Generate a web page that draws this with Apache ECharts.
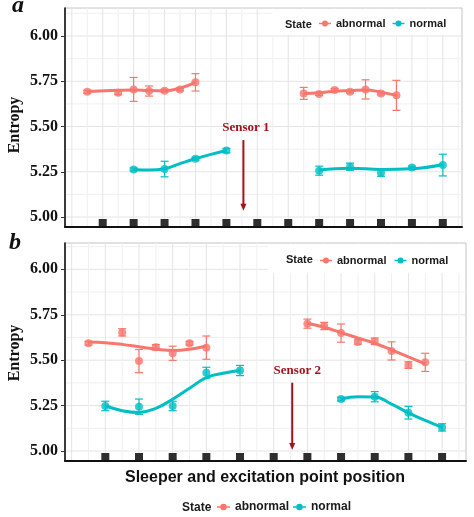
<!DOCTYPE html>
<html><head><meta charset="utf-8">
<script src="https://cdn.jsdelivr.net/npm/echarts@6/dist/echarts.min.js"></script>
<style>html,body{margin:0;padding:0;background:#fff}#c{width:474px;height:517px}</style>
</head><body><div id="c"></div>
<script>
// ---- tick / grid values ----
const yTicks = [5.00, 5.25, 5.50, 5.75, 6.00];
const yGrid = [5.000, 5.125, 5.250, 5.375, 5.500, 5.625, 5.750, 5.875, 6.000, 6.125];
const xGridA = [0, 0.5, 1, 1.5, 2, 2.5, 3, 3.5, 4, 4.5, 5, 5.5, 6, 6.5, 7, 7.5, 8, 8.5, 9, 9.5, 10, 10.5, 11, 11.5, 12, 12.5];
const xGridB = [0, 0.5, 1, 1.5, 2, 2.5, 3, 3.5, 4, 4.5, 5, 5.5, 6, 6.5, 7, 7.5, 8, 8.5, 9, 9.5, 10, 10.5, 11, 11.5];
const sleepersA = [1, 2, 3, 4, 5, 6, 7, 8, 9, 10, 11, 12];
const sleepersB = [1, 2, 3, 4, 5, 6, 7, 8, 9, 10, 11];
const legendNames = ['abnormal', 'normal'];

// ---- panel a: points (mean ± error) ----
const aAbnX   = [0.5, 1.5, 2, 2.5, 3, 3.5, 4, 7.5, 8, 8.5, 9, 9.5, 10, 10.5];
const aAbnY   = [5.692, 5.686, 5.705, 5.696, 5.698, 5.705, 5.744, 5.683, 5.680, 5.702, 5.692, 5.705, 5.683, 5.672];
const aAbnErr = [0.008, 0.010, 0.066, 0.028, 0.008, 0.008, 0.048, 0.033, 0.008, 0.008, 0.008, 0.053, 0.008, 0.083];
const aNorX   = [2, 3, 4, 5, 8, 9, 10, 11, 12];
const aNorY   = [5.263, 5.265, 5.322, 5.367, 5.256, 5.278, 5.245, 5.273, 5.287];
const aNorErr = [0.008, 0.043, 0.008, 0.012, 0.025, 0.020, 0.020, 0.008, 0.060];
// panel a: smooth fit curves
const aAbnFitLX = [0.5, 1.5, 2, 2.5, 3, 3.5, 4];
const aAbnFitLY = [5.693, 5.700, 5.702, 5.699, 5.698, 5.712, 5.744];
const aAbnFitRX = [7.5, 8, 8.5, 9, 9.5, 10, 10.5];
const aAbnFitRY = [5.683, 5.687, 5.695, 5.698, 5.702, 5.690, 5.672];
const aNorFitLX = [2, 2.5, 3, 3.5, 4, 4.5, 5];
const aNorFitLY = [5.263, 5.260, 5.267, 5.295, 5.322, 5.346, 5.367];
const aNorFitRX = [8, 9, 10, 11, 12];
const aNorFitRY = [5.260, 5.270, 5.262, 5.266, 5.290];

// ---- panel b: points ----
const bAbnX   = [0.5, 1.5, 2, 2.5, 3, 3.5, 4, 7, 7.5, 8, 8.5, 9, 9.5, 10, 10.5];
const bAbnY   = [5.593, 5.653, 5.495, 5.571, 5.538, 5.593, 5.569, 5.701, 5.688, 5.649, 5.600, 5.604, 5.551, 5.473, 5.488];
const bAbnErr = [0.010, 0.020, 0.064, 0.015, 0.039, 0.010, 0.064, 0.025, 0.020, 0.050, 0.012, 0.018, 0.050, 0.018, 0.050];
const bNorX   = [1, 2, 3, 4, 5, 8, 9, 10, 11];
const bNorY   = [5.248, 5.244, 5.248, 5.431, 5.443, 5.286, 5.299, 5.211, 5.130];
const bNorErr = [0.026, 0.042, 0.026, 0.030, 0.028, 0.010, 0.028, 0.035, 0.020];
// panel b: smooth fit curves
const bAbnFitLX = [0.5, 1, 1.5, 2, 2.5, 3, 3.5, 4];
const bAbnFitLY = [5.600, 5.596, 5.587, 5.574, 5.561, 5.553, 5.560, 5.578];
const bAbnFitRX = [7, 7.5, 8, 8.5, 9, 9.5, 10, 10.5];
const bAbnFitRY = [5.703, 5.681, 5.652, 5.622, 5.593, 5.556, 5.518, 5.480];
const bNorFitLX = [1, 1.5, 2, 2.5, 3, 3.5, 4, 4.5, 5];
const bNorFitLY = [5.249, 5.222, 5.212, 5.235, 5.285, 5.345, 5.404, 5.428, 5.443];
const bNorFitRX = [8, 8.5, 9, 9.5, 10, 10.5, 11];
const bNorFitRY = [5.286, 5.298, 5.297, 5.258, 5.210, 5.168, 5.130];

// ---- annotations (data coords) ----
const sensorA = {label: 'Sensor 1', x: 5.55, yTop: 5.425, yBot: 5.035, tx: 5.63, ty: 5.493};
const sensorB = {label: 'Sensor 2', x: 6.55, yTop: 5.376, yBot: 5.005, tx: 6.70, ty: 5.442};

// ---- styling ----
const RED = '#F8766D', TEAL = '#00BFC4', SENS = '#a3131b';
const SERIF = '"Liberation Serif", "Times New Roman", serif';
const SANS = '"Liberation Sans", Arial, sans-serif';
const legendIcon = 'path://M0,2.3H12V3.7H0Z M9,3A3,3,0,1,1,3,3A3,3,0,1,1,9,3Z';

const zip = (xs, ys) => xs.map((x, i) => [x, ys[i]]);
const zip3 = (xs, ys, es) => xs.map((x, i) => [x, ys[i], es[i]]);

function hLines(idx, vals) {
  return {
    type: 'custom', xAxisIndex: idx, yAxisIndex: idx, z: 1, silent: true,
    data: vals.map(v => [0.25, v]),
    renderItem(params, api) {
      const v = api.value(1); const p = api.coord([0.25, v]); const cs = params.coordSys;
      const major = Math.abs(v * 4 - Math.round(v * 4)) < 1e-6;
      return {type: 'line', shape: {x1: cs.x, y1: p[1], x2: cs.x + cs.width, y2: p[1]},
        style: {stroke: major ? '#e4e4e4' : '#f0f0f0', lineWidth: 1}};
    }
  };
}
function vLines(idx, vals) {
  return {
    type: 'custom', xAxisIndex: idx, yAxisIndex: idx, z: 1, silent: true,
    data: vals.map(v => [v, 5.5]),
    renderItem(params, api) {
      const v = api.value(0); const p = api.coord([v, 5.5]); const cs = params.coordSys;
      const major = Math.abs(v - Math.round(v)) < 1e-6;
      return {type: 'line', shape: {x1: p[0], y1: cs.y, x2: p[0], y2: cs.y + cs.height},
        style: {stroke: major ? '#e4e4e4' : '#f0f0f0', lineWidth: 1}};
    }
  };
}
function sleepers(idx, vals) {
  return {
    type: 'custom', xAxisIndex: idx, yAxisIndex: idx, z: 5, silent: true,
    data: vals.map(v => [v, 5.0]),
    renderItem(params, api) {
      const p = api.coord([api.value(0), 5.0]); const cs = params.coordSys;
      return {type: 'rect', shape: {x: p[0] - 4, y: cs.y + cs.height - 8, width: 8, height: 8},
        style: {fill: '#2e2e2e'}};
    }
  };
}
function errBars(idx, name, color, data) {
  return {
    type: 'custom', name, xAxisIndex: idx, yAxisIndex: idx, z: 6, silent: true,
    itemStyle: {color}, data,
    renderItem(params, api) {
      const x = api.value(0), y = api.value(1), e = api.value(2);
      const t = api.coord([x, y + e]), b = api.coord([x, y - e]); const w = 4;
      const st = {stroke: color, lineWidth: 1.2};
      return {type: 'group', children: [
        {type: 'line', shape: {x1: t[0], y1: t[1], x2: b[0], y2: b[1]}, style: st},
        {type: 'line', shape: {x1: t[0] - w, y1: t[1], x2: t[0] + w, y2: t[1]}, style: st},
        {type: 'line', shape: {x1: b[0] - w, y1: b[1], x2: b[0] + w, y2: b[1]}, style: st}
      ]};
    }
  };
}
function fit(idx, name, color, data) {
  return {type: 'line', name, xAxisIndex: idx, yAxisIndex: idx, z: 7, data,
    smooth: 0.45, showSymbol: false, symbol: 'circle', color,
    lineStyle: {color, width: 3}, silent: true};
}
function pts(idx, name, color, data) {
  return {type: 'scatter', name, xAxisIndex: idx, yAxisIndex: idx, z: 8, data,
    symbol: 'circle', symbolSize: 8, itemStyle: {color}, silent: true};
}

function yAxisCfg(idx, min, max) {
  return {
    type: 'value', gridIndex: idx, min, max, z: 9,
    axisLine: {show: true, onZero: false, lineStyle: {color: '#111', width: 1.6}},
    axisTick: {show: true, customValues: yTicks, length: 4, lineStyle: {color: '#333', width: 1}},
    axisLabel: {show: true, customValues: yTicks, margin: 7, formatter: v => v.toFixed(2),
      fontFamily: SERIF, fontWeight: 'bold', fontSize: 16, color: '#111'},
    splitLine: {show: false}
  };
}
function xAxisCfg(idx, min, max) {
  return {
    type: 'value', gridIndex: idx, min, max, z: 9,
    axisLine: {show: true, onZero: false, lineStyle: {color: '#111', width: 2}},
    axisTick: {show: false}, axisLabel: {show: false}, splitLine: {show: false}
  };
}
function legendCfg(left, top, fs, iw, ih, gap) {
  return {left, top, padding: 0, itemWidth: iw, itemHeight: ih, itemGap: gap, selectedMode: false,
    data: legendNames.map(n => ({name: n, icon: legendIcon})),
    textStyle: {fontFamily: SANS, fontWeight: 'bold', fontSize: fs, color: '#1a1a1a'}};
}

const chart = echarts.init(document.getElementById('c'), null, {renderer: 'canvas'});
const option = {
  animation: false,
  backgroundColor: '#fff',
  grid: [
    {left: 65, top: 8, width: 397, height: 219, show: true, backgroundColor: '#fff', borderColor: '#c4c4c4', borderWidth: 1},
    {left: 65, top: 243, width: 401, height: 218, show: true, backgroundColor: '#fff', borderColor: '#c4c4c4', borderWidth: 1}
  ],
  xAxis: [xAxisCfg(0, -0.22, 12.62), xAxisCfg(1, -0.197, 11.71)],
  yAxis: [yAxisCfg(0, 4.9448, 6.1547), yAxisCfg(1, 4.945, 6.145)],
  legend: [
    legendCfg(319, 18, 11, 12, 6, 7),
    legendCfg(320, 255, 11, 12, 6, 8),
    legendCfg(217, 501, 12, 13, 7, 4)
  ],
  series: [
    hLines(0, yGrid), vLines(0, xGridA), hLines(1, yGrid), vLines(1, xGridB),
    sleepers(0, sleepersA), sleepers(1, sleepersB),
    // panel a
    fit(0, 'abnormal', RED, zip(aAbnFitLX, aAbnFitLY)),
    fit(0, 'abnormal', RED, zip(aAbnFitRX, aAbnFitRY)),
    fit(0, 'normal', TEAL, zip(aNorFitLX, aNorFitLY)),
    fit(0, 'normal', TEAL, zip(aNorFitRX, aNorFitRY)),
    errBars(0, 'abnormal', RED, zip3(aAbnX, aAbnY, aAbnErr)),
    errBars(0, 'normal', TEAL, zip3(aNorX, aNorY, aNorErr)),
    pts(0, 'abnormal', RED, zip(aAbnX, aAbnY)),
    pts(0, 'normal', TEAL, zip(aNorX, aNorY)),
    // panel b
    fit(1, 'abnormal', RED, zip(bAbnFitLX, bAbnFitLY)),
    fit(1, 'abnormal', RED, zip(bAbnFitRX, bAbnFitRY)),
    fit(1, 'normal', TEAL, zip(bNorFitLX, bNorFitLY)),
    fit(1, 'normal', TEAL, zip(bNorFitRX, bNorFitRY)),
    errBars(1, 'abnormal', RED, zip3(bAbnX, bAbnY, bAbnErr)),
    errBars(1, 'normal', TEAL, zip3(bNorX, bNorY, bNorErr)),
    pts(1, 'abnormal', RED, zip(bAbnX, bAbnY)),
    pts(1, 'normal', TEAL, zip(bNorX, bNorY))
  ]
};
chart.setOption(option);

// annotations and text placed via the axes' own scales
function sensorGraphics(gi, s) {
  const top = chart.convertToPixel({gridIndex: gi}, [s.x, s.yTop]);
  const bot = chart.convertToPixel({gridIndex: gi}, [s.x, s.yBot]);
  const txt = chart.convertToPixel({gridIndex: gi}, [s.tx, s.ty]);
  return [
    {type: 'line', z: 20, shape: {x1: top[0], y1: top[1], x2: bot[0], y2: bot[1] - 6}, style: {stroke: SENS, lineWidth: 2}},
    {type: 'polygon', z: 20, shape: {points: [[bot[0] - 3, bot[1] - 7], [bot[0] + 3, bot[1] - 7], [bot[0], bot[1]]]}, style: {fill: SENS}},
    {type: 'text', z: 20, x: txt[0], y: txt[1], style: {text: s.label, fill: SENS, font: 'bold 13px ' + SERIF, align: 'center', verticalAlign: 'middle'}}
  ];
}
const g = [
  // legend backdrops
  {type: 'rect', z: 1.5, shape: {x: 272, y: 9, width: 189, height: 26}, style: {fill: '#fff'}},
  {type: 'rect', z: 1.5, shape: {x: 268, y: 244, width: 197, height: 29}, style: {fill: '#fff'}},
  {type: 'text', z: 10, x: 285, y: 25, style: {text: 'State', font: 'bold 11px ' + SANS, fill: '#1a1a1a', verticalAlign: 'middle'}},
  {type: 'text', z: 10, x: 286, y: 260, style: {text: 'State', font: 'bold 11px ' + SANS, fill: '#1a1a1a', verticalAlign: 'middle'}},
  {type: 'text', z: 10, x: 182, y: 508, style: {text: 'State', font: 'bold 12px ' + SANS, fill: '#1a1a1a', verticalAlign: 'middle'}},
  // panel tags
  {type: 'text', z: 10, x: 18, y: 6, style: {text: 'a', font: 'italic bold 24px ' + SERIF, fill: '#111', align: 'center', verticalAlign: 'middle'}},
  {type: 'text', z: 10, x: 15, y: 243, style: {text: 'b', font: 'italic bold 24px ' + SERIF, fill: '#111', align: 'center', verticalAlign: 'middle'}},
  // y titles
  {type: 'text', z: 10, x: 15, y: 125, rotation: Math.PI / 2, style: {text: 'Entropy', font: 'bold 16px ' + SERIF, fill: '#111', align: 'center', verticalAlign: 'middle'}},
  {type: 'text', z: 10, x: 15, y: 353, rotation: Math.PI / 2, style: {text: 'Entropy', font: 'bold 16px ' + SERIF, fill: '#111', align: 'center', verticalAlign: 'middle'}},
  // x title
  {type: 'text', z: 10, x: 265, y: 478, style: {text: 'Sleeper and excitation point position', font: 'bold 16px ' + SANS, fill: '#111', align: 'center', verticalAlign: 'middle'}}
].concat(sensorGraphics(0, sensorA), sensorGraphics(1, sensorB));
chart.setOption({graphic: g});
</script>
</body></html>
